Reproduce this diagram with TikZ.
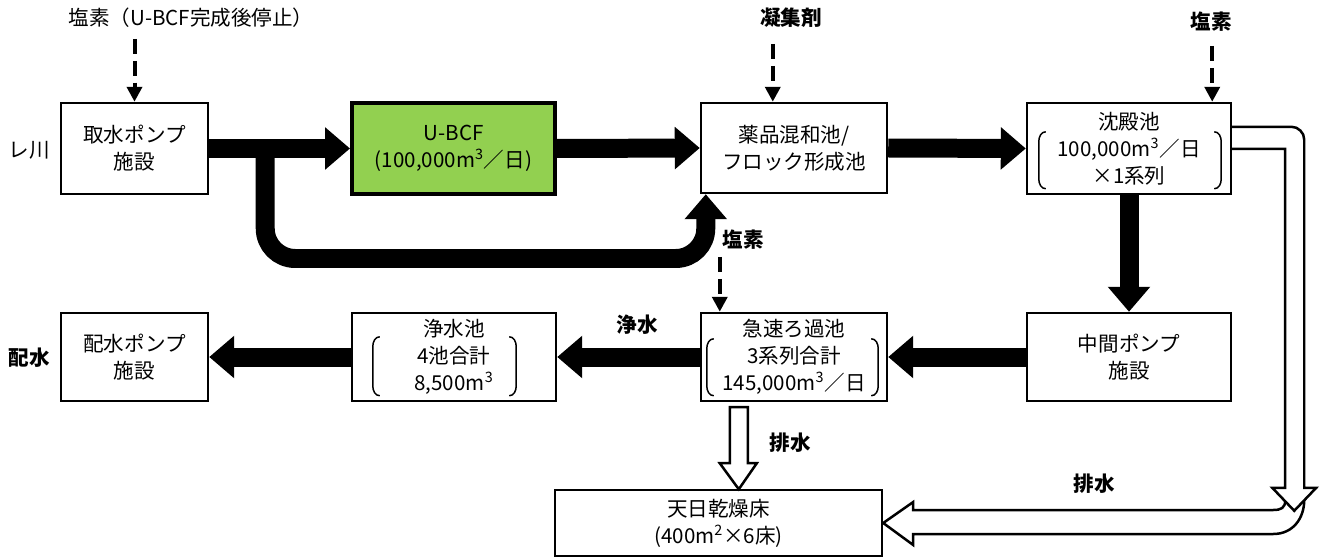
\documentclass[tikz,border=0pt]{standalone}
\usepackage{fontspec}
\setmainfont{Noto Sans CJK JP}
\usetikzlibrary{arrows.meta, calc}
\definecolor{ubcfgreen}{HTML}{92D050}

\begin{document}
\begin{tikzpicture}[
    x=0.02cm, y=-0.02cm,
    every node/.style={font=\fontsize{11.7}{15.3}\selectfont},
    box/.style={draw, line width=0.05cm, align=center, inner sep=0pt},
    flow/.style={line width=0.38cm, -{Triangle[width=0.82cm, length=0.5cm]}},
    chem/.style={line width=0.08cm, dash pattern=on 0.3cm off 0.14cm,
        -{Triangle[width=0.3cm, length=0.3cm]}},
    hollow/.style={draw, fill=white, line width=0.05cm},
    brk/.style={line width=0.03cm},
    lbl/.style={font=\fontsize{11.7}{15.3}\selectfont\bfseries},
]
\useasboundingbox (0,0) rectangle (1321,557);

% === Upper row ===
\node[box, minimum width=2.94cm, minimum height=1.82cm] (intake) at (134.5,148.5) {取水ポンプ\\施設};
\node[box, fill=ubcfgreen, line width=0.08cm, minimum width=4.06cm, minimum height=1.84cm]
    (ubcf) at (453.5,148.5) {U-BCF\\(100,000m\textsuperscript{3}／日)};
\node[box, minimum width=3.72cm, minimum height=1.80cm] (mix) at (794,148) {薬品混和池/\\フロック形成池};
\node[box, minimum width=4.08cm, minimum height=1.82cm] (settle) at (1129,148.5)
    {沈殿池\\100,000m\textsuperscript{3}／日\\×1系列};

% === Lower row ===
\node[box, minimum width=4.08cm, minimum height=1.76cm] (midpump) at (1129,357) {中間ポンプ\\施設};
\node[box, minimum width=3.72cm, minimum height=1.76cm] (rapid) at (794,357)
    {急速ろ過池\\3系列合計\\145,000m\textsuperscript{3}／日};
\node[box, minimum width=4.08cm, minimum height=1.76cm] (clear) at (454,357)
    {浄水池\\4池合計\\8,500m\textsuperscript{3}};
\node[box, minimum width=2.94cm, minimum height=1.76cm] (distpump) at (134.5,357) {配水ポンプ\\施設};
\node[box, minimum width=6.54cm, minimum height=1.32cm] (dry) at (718.5,523)
    {天日乾燥床\\(400m\textsuperscript{2}×6床)};

% === Side and chemical labels ===
\node (river) at (29,150) {レ川};
\node[lbl] (supply) at (29,358) {配水};
\node (cl1) at (191,18) {塩素（U-BCF完成後停止）};
\node[lbl] (coag) at (791,18) {凝集剤};
\node[lbl] (cl2) at (1211,22) {塩素};
\node[lbl] (cl3) at (743,240) {塩素};
\node[lbl] (cleanlbl) at (637,325) {浄水};
\node[lbl] (drain1) at (790,443) {排水};
\node[lbl] (drain2) at (1094,484) {排水};

% === Brackets round the capacities ===
\draw[brk] ($(settle.north west)+(20,30)$) to[out=180,in=90] ++(-7,10) -- ++(0,37) to[out=-90,in=180] ++(7,10);
\draw[brk] ($(settle.north east)+(-18,30)$) to[out=0,in=90] ++(7,10) -- ++(0,37) to[out=-90,in=0] ++(-7,10);
\draw[brk] ($(rapid.north west)+(14,27)$) to[out=180,in=90] ++(-7,10) -- ++(0,37) to[out=-90,in=180] ++(7,10);
\draw[brk] ($(rapid.north east)+(-17,27)$) to[out=0,in=90] ++(7,10) -- ++(0,37) to[out=-90,in=0] ++(-7,10);
\draw[brk] ($(clear.north west)+(29,25)$) to[out=180,in=90] ++(-7,10) -- ++(0,39) to[out=-90,in=180] ++(7,10);
\draw[brk] ($(clear.north east)+(-48,25)$) to[out=0,in=90] ++(7,10) -- ++(0,39) to[out=-90,in=0] ++(-7,10);

% === Main water flow ===
\draw[flow] (intake.east) -- (ubcf.west);
\draw[flow] (ubcf.east) -- (mix.west);
\draw[flow] (mix.east) -- (settle.west);
\draw[flow] (settle.south) -- (midpump.north);
\draw[flow] (midpump.west) -- (rapid.east);
\draw[flow] (rapid.west) -- (clear.east);
\draw[flow] (clear.west) -- (distpump.east);

% Bypass round the U-BCF
\coordinate (bpA) at ($(intake.east)+(56,0)$);
\coordinate (bpB) at ($(mix.south west)+(6,0)$);
\draw[flow, rounded corners=0.6cm] (bpA) -- ++(0,110) -| (bpB);

% === Chemical dosing (dashed) ===
\draw[chem] ($(intake.north)+(0,-63)$) -- (intake.north);
\draw[chem] ($(mix.north west)+(73,-58)$) -- ($(mix.north west)+(73,0)$);
\draw[chem] ($(settle.north east)+(-20,-56)$) -- ($(settle.north east)+(-20,0)$);
\draw[chem] ($(rapid.north west)+(20,-55)$) -- ($(rapid.north west)+(20,0)$);

% === Drain water (hollow arrows) ===
\coordinate (drA) at ($(rapid.south west)+(39,5)$);
\draw[hollow] ($(drA)+(-9,0)$) -- ++(0,56) -- ++(-10,0) -- ++(19,26) -- ++(18,-26) -- ++(-9,0) -- ++(0,-56) -- cycle;

% lower pipe into the drying beds
\draw[hollow] ($(dry.east)+(402,-23)$) .. controls +(0,8) and +(8,0) .. ($(dry.east)+(390,-13)$)
    -- ($(dry.east)+(30,-13)$) -- ++(0,-8) -- ++(-30,21) -- ++(30,22) -- ++(0,-11)
    -- ($(dry.east)+(390,11)$) .. controls +(20,0) and +(0,18) .. ($(dry.east)+(421,-23)$);
% pipe down from the settling basin
\draw[hollow] ($(settle.north east)+(0,25)$) -- ++(59,0) arc[start angle=-90, end angle=0, radius=13]
    -- ++(0,348) -- ++(12,0) -- ++(-22,23) -- ++(-22,-23) -- ++(13,0) -- ++(0,-339)
    -- ($(settle.north east)+(0,47)$);

\end{tikzpicture}
\end{document}
